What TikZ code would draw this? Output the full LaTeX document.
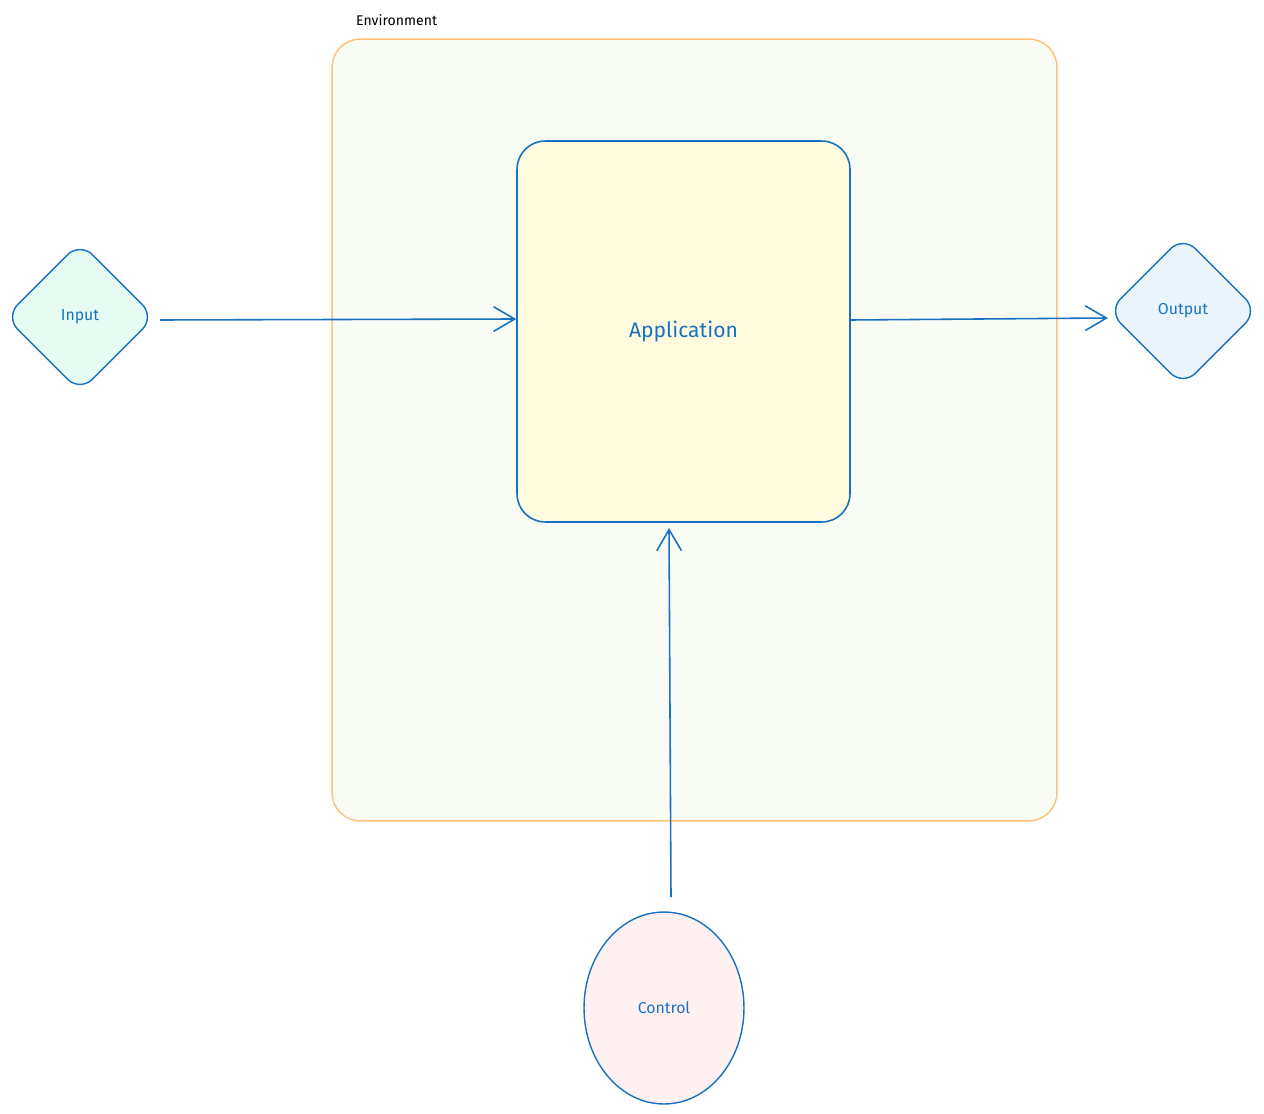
\documentclass[tikz,border=0pt]{standalone}
\usepackage{fontspec}
\setmainfont{Fira Sans}
\usetikzlibrary{shapes.geometric,arrows.meta}
\definecolor{blu}{HTML}{1971C2}
\definecolor{orng}{HTML}{FFC078}
\definecolor{envfill}{HTML}{F8FCF5}
\definecolor{appfill}{HTML}{FEFBDF}
\definecolor{infill}{HTML}{E6FCF2}
\definecolor{outfill}{HTML}{EBF5FE}
\definecolor{ctlfill}{HTML}{FFF1F1}
\tikzset{
 lbl/.style={text=blu,font=\small},
 conn/.style={draw=blu,line width=0.9pt,-{Straight Barb[length=12pt,width=14pt]}},
 dia/.style={diamond,draw=blu,line width=0.8pt,rounded corners=10pt,minimum width=3.0cm,minimum height=3.0cm,inner sep=0pt},
}
\begin{document}
\begin{tikzpicture}[x=0.02cm,y=-0.02cm]
\useasboundingbox (0,0) rectangle (1264,1114);
\node[draw=orng,fill=envfill,line width=0.8pt,rounded corners=16pt,minimum width=14.5cm,minimum height=15.64cm,inner sep=0pt] (env) at (694.5,430) {};
\node[font=\footnotesize,anchor=west] (envl) at (350,20) {Environment};
\node[draw=blu,fill=appfill,line width=0.9pt,rounded corners=16pt,minimum width=6.66cm,minimum height=7.62cm,inner sep=0pt,lbl,font=\large] (app) at (683.5,331.5) {Application};
\node[dia,fill=infill,lbl] (in) at (80,317) {Input};
\node[dia,fill=outfill,lbl] (out) at (1183,311) {Output};
\node[ellipse,draw=blu,fill=ctlfill,line width=0.8pt,minimum width=3.2cm,minimum height=3.84cm,lbl] (ctl) at (664,1008) {Control};
\coordinate (a1) at (160,320);
\coordinate (a2) at (1108,318);
\coordinate (a3) at (671,897);
\coordinate (a4) at (669,528);
\draw[conn] (a1) -- (app.west |- 0,319);
\draw[conn] (app.east |- 0,320) -- (a2);
\draw[conn] (a3) -- (a4);
\end{tikzpicture}
\end{document}
